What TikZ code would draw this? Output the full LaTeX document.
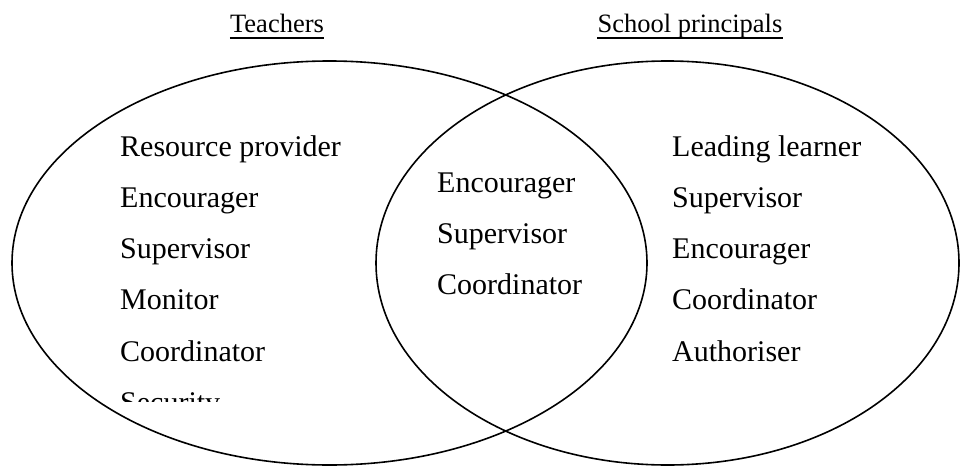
\documentclass[tikz,border=0pt]{standalone}
\usepackage{fontspec}
\setmainfont{Liberation Serif}
\tikzset{
  role/.style={anchor=base west, inner sep=0pt, font=\fontsize{30}{35}\selectfont},
  group/.style={anchor=base, inner sep=0pt, font=\fontsize{26.5}{32}\selectfont},
  set/.style={draw=black, line width=1.6pt},
}

\begin{document}
\begin{tikzpicture}[x=1pt, y=-1pt]
\useasboundingbox (0,0) rectangle (960,468);

% the two groups
\draw[set] (329.5,263) ellipse [x radius=317.5pt, y radius=202pt];
\draw[set] (667.5,263) ellipse [x radius=291.5pt, y radius=202pt];

\node[group] (teach) at (277,33) {Teachers};
\node[group] (princ) at (690,33) {School principals};
\draw[line width=1.6pt] ([yshift=-5pt]teach.base west) -- ([yshift=-5pt]teach.base east);
\draw[line width=1.6pt] ([yshift=-5pt]princ.base west) -- ([yshift=-5pt]princ.base east);

% teachers only
\node[role] (t1) at (120,156) {Resource provider};
\node[role] (t2) at (120,207) {Encourager};
\node[role] (t3) at (120,258) {Supervisor};
\node[role] (t4) at (120,309) {Monitor};
\node[role] (t5) at (120,361) {Coordinator};
\begin{scope}
\clip (100,385) rectangle (400,401);
\node[role] (t6) at (120,412) {Security};
\end{scope}

% both
\node[role] (b1) at (437,192) {Encourager};
\node[role] (b2) at (437,243) {Supervisor};
\node[role] (b3) at (437,294) {Coordinator};

% principals only
\node[role] (p1) at (672,156) {Leading learner};
\node[role] (p2) at (672,207) {Supervisor};
\node[role] (p3) at (672,258) {Encourager};
\node[role] (p4) at (672,309) {Coordinator};
\node[role] (p5) at (672,361) {Authoriser};

\end{tikzpicture}
\end{document}
